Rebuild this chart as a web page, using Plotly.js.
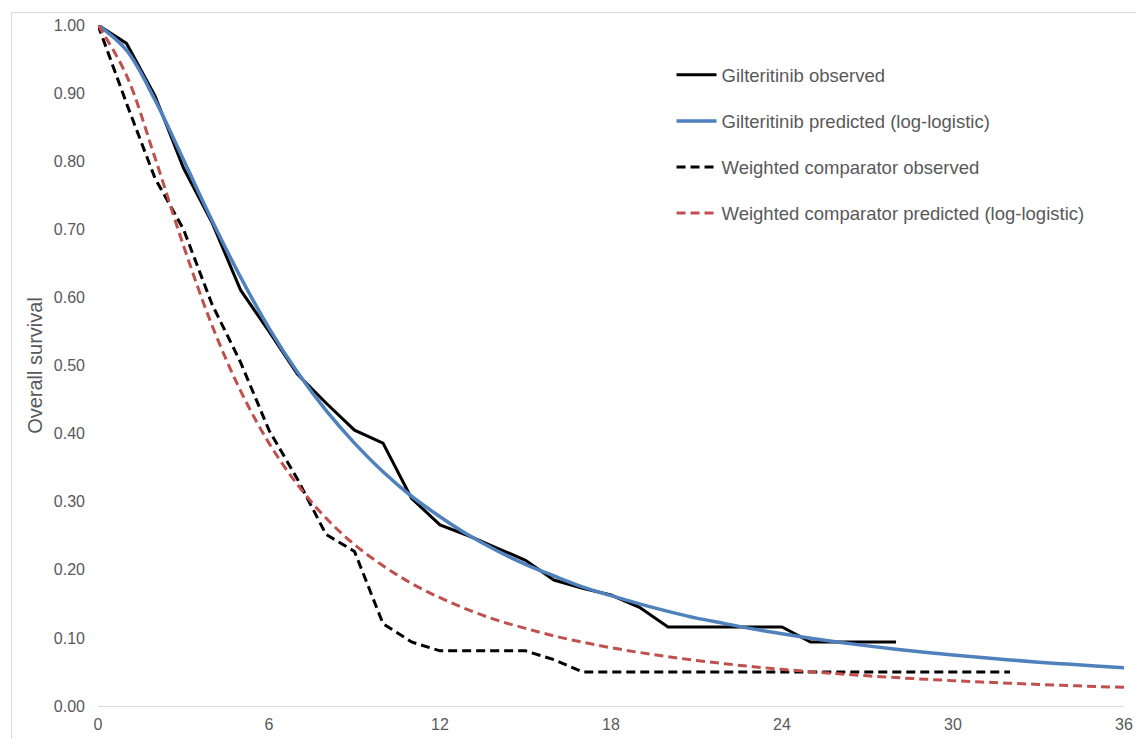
<!DOCTYPE html>
<html>
<head>
<meta charset="utf-8">
<script src="https://cdn.plot.ly/plotly-3.0.1.min.js"></script>
<style>
  html, body { margin: 0; padding: 0; background: #ffffff; }
  #wrap { position: relative; width: 1136px; height: 739px; overflow: hidden; }
  #chart { position: absolute; left: 0; top: 0; width: 1136px; height: 739px; }
  #frame { position: absolute; left: 11px; top: 12px; right: -2px; bottom: -2px;
           border-top: 1px solid #d9d9d9; border-left: 1px solid #d9d9d9; pointer-events: none; }
</style>
</head>
<body>
<div id="wrap">
  <div id="chart"></div>
  <div id="frame"></div>
</div>
<script>
// Months since start
const gilObsMonths = [0,1,2,3,4,5,6,7,8,9,10,11,12,13,14,15,16,17,18,19,20,21,22,23,24,25,26,27,28];
const gilObsSurv = [1.000,0.973,0.896,0.790,0.710,0.611,0.550,0.487,0.445,0.405,0.386,0.305,0.266,0.250,0.232,0.214,0.185,0.173,0.163,0.145,0.116,0.116,0.116,0.116,0.116,0.094,0.094,0.094,0.094];

const predMonths = [0,1,2,3,4,5,6,7,8,9,10,11,12,13,14,15,16,17,18,19,20,21,22,23,24,25,26,27,28,29,30,31,32,33,34,35,36];
const gilPredSurv = [1.000,0.963,0.890,0.802,0.713,0.630,0.555,0.490,0.434,0.386,0.344,0.308,0.278,0.251,0.228,0.208,0.191,0.175,0.162,0.150,0.139,0.129,0.121,0.113,0.106,0.0995,0.0936,0.0883,0.0835,0.0790,0.0749,0.0712,0.0677,0.0644,0.0615,0.0587,0.0561];

const compObsMonths = [0,1,2,3,4,5,6,7,8,9,10,11,12,13,14,15,16,17,18,19,20,21,22,23,24,25,26,27,28,29,30,31,32];
const compObsSurv = [1.000,0.885,0.775,0.700,0.590,0.505,0.405,0.333,0.252,0.227,0.121,0.094,0.081,0.081,0.081,0.081,0.068,0.050,0.050,0.050,0.050,0.050,0.050,0.050,0.050,0.050,0.050,0.050,0.050,0.050,0.050,0.050,0.050];

const compPredSurv = [1.000,0.926,0.805,0.676,0.559,0.463,0.386,0.325,0.276,0.237,0.206,0.180,0.159,0.141,0.126,0.114,0.103,0.0937,0.0856,0.0786,0.0724,0.0669,0.0620,0.0577,0.0538,0.0503,0.0472,0.0443,0.0417,0.0394,0.0372,0.0352,0.0334,0.0317,0.0302,0.0287,0.0274];

const seriesNames = [
  'Gilteritinib observed',
  'Gilteritinib predicted (log-logistic)',
  'Weighted comparator observed',
  'Weighted comparator predicted (log-logistic)'
];

const xTicks = [0,6,12,18,24,30,36];
const yTicks = [0,0.1,0.2,0.3,0.4,0.5,0.6,0.7,0.8,0.9,1.0];
const yTickText = ['0.00','0.10','0.20','0.30','0.40','0.50','0.60','0.70','0.80','0.90','1.00'];

const traces = [
  { x: gilObsMonths, y: gilObsSurv, name: seriesNames[0], type: 'scatter', mode: 'lines',
    legendgroup: 'a', line: { color: '#000000', width: 3 } },
  { x: predMonths, y: gilPredSurv, name: seriesNames[1], type: 'scatter', mode: 'lines',
    legendgroup: 'b', line: { color: '#4f81bd', width: 3.5, shape: 'spline', smoothing: 1 } },
  { x: compObsMonths, y: compObsSurv, name: seriesNames[2], type: 'scatter', mode: 'lines',
    legendgroup: 'c', line: { color: '#000000', width: 3, dash: '9px,5px' } },
  { x: predMonths, y: compPredSurv, name: seriesNames[3], type: 'scatter', mode: 'lines',
    legendgroup: 'd', line: { color: '#c0504d', width: 3, dash: '9px,5px', shape: 'spline', smoothing: 1 } }
];

const layout = {
  width: 1136, height: 739,
  margin: { l: 98, r: 12, t: 25, b: 33, pad: 0 },
  paper_bgcolor: 'rgba(0,0,0,0)',
  plot_bgcolor: '#ffffff',
  font: { family: '"Liberation Sans", Arial, sans-serif', color: '#595959', size: 16 },
  showlegend: true,
  legend: {
    x: 0.559, y: 0.954, xanchor: 'left', yanchor: 'top',
    font: { size: 18.5, color: '#595959' },
    bgcolor: 'rgba(0,0,0,0)',
    traceorder: 'grouped', tracegroupgap: 19,
    itemwidth: 40
  },
  xaxis: {
    range: [0, 36], tickvals: xTicks, ticktext: xTicks.map(String),
    showgrid: false, zeroline: false, showline: true, linecolor: '#d9d9d9', linewidth: 1,
    ticks: '', ticklabelstandoff: 4, tickfont: { size: 16, color: '#595959' }, automargin: false
  },
  yaxis: {
    range: [0, 1], tickvals: yTicks, ticktext: yTickText,
    showgrid: false, zeroline: false, showline: false,
    ticks: '', ticklabelstandoff: 12, tickfont: { size: 16, color: '#595959' }, automargin: false,
    title: { text: 'Overall survival', font: { size: 20, color: '#595959' }, standoff: 5 }
  }
};

Plotly.newPlot('chart', traces, layout, { displayModeBar: false, staticPlot: true });
</script>
</body>
</html>
